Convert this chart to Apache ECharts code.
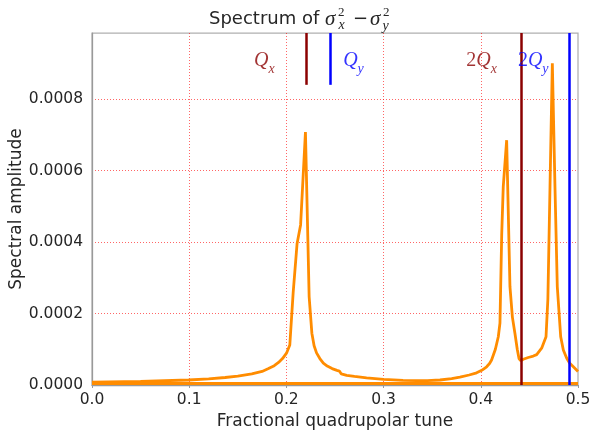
<!DOCTYPE html>
<html><head><meta charset="utf-8">
<script src="https://cdn.jsdelivr.net/npm/echarts@6/dist/echarts.min.js"></script>
<style>html,body{margin:0;padding:0;background:#fff}#c{width:591px;height:431px}</style>
</head><body><div id="c"></div><script>
// Spectrum data (fractional tune vs spectral amplitude)
const tune = [0.000, 0.050, 0.0993, 0.120, 0.137, 0.150, 0.1644, 0.175, 0.1816, 0.1875, 0.1919, 0.1960, 0.2001, 0.2035,
  0.2070, 0.2110, 0.2146, 0.2196, 0.2234, 0.2262, 0.2285, 0.2310, 0.2344, 0.2380, 0.2420, 0.2470, 0.2520, 0.2545,
  0.2565, 0.2620, 0.2700, 0.2825, 0.3000, 0.3200, 0.3340, 0.3450, 0.3580, 0.3700, 0.3785, 0.3880, 0.3957, 0.4010,
  0.4060, 0.4090, 0.4111, 0.4150, 0.4180, 0.4197, 0.4215, 0.4231, 0.4266, 0.4300, 0.4325, 0.4351, 0.4375, 0.4393,
  0.4410, 0.4437, 0.4488, 0.4540, 0.4575, 0.4626, 0.4671, 0.4690, 0.4712, 0.4736, 0.4763, 0.4787, 0.4822, 0.4849,
  0.4884, 0.4915, 0.4952, 0.5000];
const amplitude = [8e-6, 1.0e-5, 1.4e-5, 1.7e-5, 2.1e-5, 2.5e-5, 3.1e-5, 3.8e-5, 4.6e-5, 5.4e-5, 6.3e-5, 7.4e-5, 8.9e-5, 1.12e-4,
  2.6e-4, 3.96e-4, 4.48e-4, 7.08e-4, 2.47e-4, 1.45e-4, 1.1e-4, 9.0e-5, 7.4e-5, 6.1e-5, 5.3e-5, 4.6e-5, 4.1e-5, 3.9e-5,
  3.1e-5, 2.7e-5, 2.4e-5, 2.0e-5, 1.6e-5, 1.3e-5, 1.2e-5, 1.2e-5, 1.4e-5, 1.8e-5, 2.2e-5, 2.8e-5, 3.4e-5, 4.1e-5,
  5.1e-5, 6.0e-5, 7.0e-5, 1.0e-4, 1.35e-4, 1.73e-4, 4.2e-4, 5.55e-4, 6.85e-4, 2.75e-4, 1.9e-4, 1.45e-4, 1.0e-4, 7.4e-5,
  6.8e-5, 7.2e-5, 7.7e-5, 8.1e-5, 8.5e-5, 1.03e-4, 1.35e-4, 2.4e-4, 5.55e-4, 9.0e-4, 5.55e-4, 2.75e-4, 1.35e-4, 9.8e-5,
  7.5e-5, 6.1e-5, 5.1e-5, 3.8e-5];
const baselineTune = [0.0, 0.25, 0.5];
const baselineAmp = [4e-6, 4e-6, 4e-6];

// Resonance markers
const resonanceTunes = [0.2207, 0.2454, 0.4414, 0.4908];
const resonanceBottoms = [0.00084, 0.00084, 0.0, 0.0];
const resonanceColors = ['#8b0000', '#0000ff', '#8b0000', '#0000ff'];
const labelPrefix = ['', '', '2', '2'];
const labelSub = ['x', 'y', 'x', 'y'];
const labelTunes = [0.1665, 0.2581, 0.3847, 0.4379];
const labelAmps = [0.0009, 0.0009, 0.0009, 0.0009];

const xMin = 0, xMax = 0.5, xStep = 0.1;
const yMin = 0, yMax = 0.000985, yStep = 0.0002;

const chart = echarts.init(document.getElementById('c'), null, {renderer: 'canvas'});
const serif = 'Liberation Serif';
const txt = '#262626';

const markData = resonanceTunes.map((t, i) => [
  {coord: [t, resonanceBottoms[i]], lineStyle: {color: resonanceColors[i], width: 2.5, type: 'solid'}},
  {coord: [t, yMax]}
]);

const labelData = labelTunes.map((t, i) => ({
  value: [t, labelAmps[i]],
  label: {
    formatter: '{z| }' + (labelPrefix[i] ? '{n|' + labelPrefix[i] + '}' : '') + '{q|Q}{s|' + labelSub[i] + '}',
    rich: {
      z: {fontSize: 1, lineHeight: 25},
      n: {fontFamily: serif, fontSize: 20, lineHeight: 20, verticalAlign: 'top', color: resonanceColors[i]},
      q: {fontFamily: serif, fontStyle: 'italic', fontSize: 20, lineHeight: 20, verticalAlign: 'top', color: resonanceColors[i]},
      s: {fontFamily: serif, fontStyle: 'italic', fontSize: 14, lineHeight: 14, verticalAlign: 'bottom', color: resonanceColors[i]}
    }
  }
}));

const option = {
  animation: false,
  backgroundColor: '#fff',
  grid: {left: 92, right: 13, top: 33, bottom: 46, containLabel: false, outerBoundsMode: 'none',
    show: true, borderColor: '#b0b0b0', borderWidth: 1.25},
  xAxis: {
    type: 'value', min: xMin, max: xMax, interval: xStep,
    name: 'Fractional quadrupolar tune', nameLocation: 'middle', nameGap: 28, nameMoveOverlap: false,
    nameTextStyle: {fontFamily: 'DejaVu Sans', fontSize: 17, color: txt},
    axisLine: {lineStyle: {color: '#999', width: 1.25}},
    axisTick: {show: true, length: 3, lineStyle: {color: '#999'}},
    axisLabel: {fontFamily: 'DejaVu Sans', fontSize: 15.5, color: txt, margin: 7, formatter: v => v.toFixed(1)},
    splitLine: {show: true, showMinLine: false, showMaxLine: false, lineStyle: {color: 'rgba(255,0,0,0.6)', width: 1, type: [1, 2]}}
  },
  yAxis: {
    type: 'value', min: yMin, max: yMax, interval: yStep,
    name: 'Spectral amplitude', nameLocation: 'middle', nameGap: 67, nameMoveOverlap: false,
    nameTextStyle: {fontFamily: 'DejaVu Sans', fontSize: 17, color: txt},
    axisLine: {show: true, lineStyle: {color: '#999', width: 1.25}},
    axisTick: {show: false},
    axisLabel: {fontFamily: 'DejaVu Sans', fontSize: 15.5, color: txt, margin: 9, showMaxLabel: false, formatter: v => v.toFixed(4)},
    splitLine: {show: true, showMinLine: false, showMaxLine: false, lineStyle: {color: 'rgba(255,0,0,0.6)', width: 1, type: [1, 2]}}
  },
  series: [
    {
      type: 'line', data: tune.map((t, i) => [t, amplitude[i]]), showSymbol: false, symbol: 'none',
      lineStyle: {color: '#ff8c00', width: 2.8}, z: 2
    },
    {
      type: 'line', data: [], markLine: {silent: true, symbol: ['none', 'none'], label: {show: false}, data: markData}, z: 3
    },
    {
      type: 'line', data: baselineTune.map((t, i) => [t, baselineAmp[i]]), showSymbol: false, symbol: 'none',
      lineStyle: {color: '#ff8c00', width: 3}, z: 4
    },
    {
      type: 'scatter', data: labelData, symbolSize: 0, silent: true,
      label: {show: true, position: 'right', distance: 0}, z: 5
    }
  ],
  graphic: [
    {type: 'text', style: {text: 'Spectrum of', x: 209, y: 19, font: '18px "DejaVu Sans"', fill: txt, verticalAlign: 'middle'}},
    {type: 'text', style: {text: 'σ', x: 325, y: 19.5, font: 'italic 21px "Liberation Serif"', fill: txt, verticalAlign: 'middle'}},
    {type: 'text', style: {text: '2', x: 338, y: 12.5, font: '13px "Liberation Serif"', fill: txt, verticalAlign: 'middle'}},
    {type: 'text', style: {text: 'x', x: 338.5, y: 25.5, font: 'italic 14px "Liberation Serif"', fill: txt, verticalAlign: 'middle'}},
    {type: 'text', style: {text: '−', x: 353, y: 19, font: '18px "DejaVu Sans"', fill: txt, verticalAlign: 'middle'}},
    {type: 'text', style: {text: 'σ', x: 370, y: 19.5, font: 'italic 21px "Liberation Serif"', fill: txt, verticalAlign: 'middle'}},
    {type: 'text', style: {text: '2', x: 383, y: 12.5, font: '13px "Liberation Serif"', fill: txt, verticalAlign: 'middle'}},
    {type: 'text', style: {text: 'y', x: 382.5, y: 26, font: 'italic 14px "Liberation Serif"', fill: txt, verticalAlign: 'middle'}}
  ]
};
chart.setOption(option);
</script></body></html>
